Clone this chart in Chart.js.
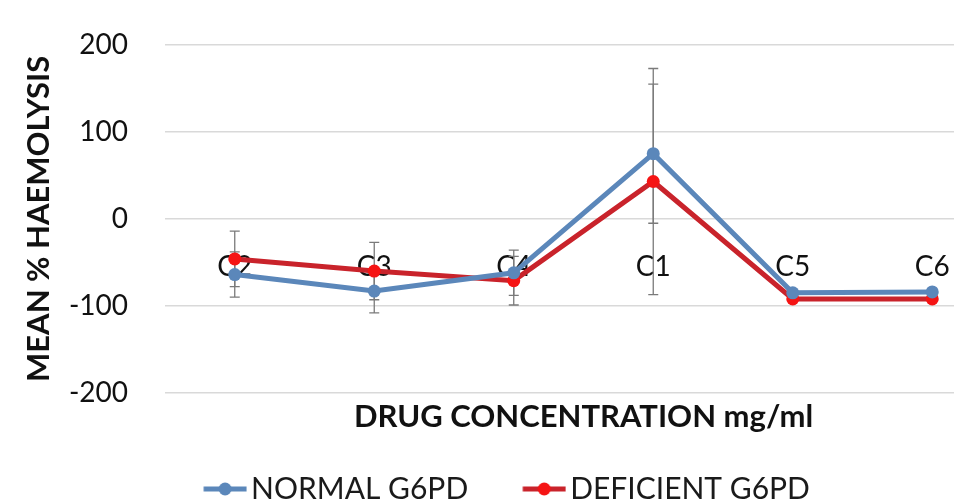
<!DOCTYPE html>
<html>
<head>
<meta charset="utf-8">
<script src="https://cdn.jsdelivr.net/npm/chart.js@4.4.1/dist/chart.umd.min.js"></script>
<style>
  html, body { margin: 0; padding: 0; background: #fff; overflow: hidden; }
  #wrap { width: 1017px; height: 504px; }
</style>
</head>
<body>
<div id="wrap"><canvas id="mainChart"></canvas></div>
<script>
const categories = ['C2', 'C3', 'C4', 'C1', 'C5', 'C6'];
const normalG6pd = [-64, -83, -62, 75, -85, -84];
const deficientG6pd = [-46, -60, -71, 43, -92, -92];
const normalErr = [26, 25, 26, 80, 2, 2];
const deficientErr = [32, 33, 28, 130, 2, 2];
const yTicks = [-200, -100, 0, 100, 200];

const BLUE = '#5b87ba';
const RED_LINE = '#c9232b';
const RED_DOT = '#f51414';
const FONT = 'Lato, "Open Sans", sans-serif';

// legend icon: line with a dot, sitting in the right part of a wide box
function legendIcon(line, dot) {
  const c = document.createElement('canvas');
  c.width = 82; c.height = 16;
  const g = c.getContext('2d');
  g.strokeStyle = line; g.lineWidth = 5;
  g.beginPath(); g.moveTo(38.5, 8); g.lineTo(81.5, 8); g.stroke();
  g.fillStyle = dot;
  g.beginPath(); g.arc(60, 8, 6.5, 0, Math.PI * 2); g.fill();
  return c;
}

const errorBars = {
  id: 'errorBars',
  beforeDatasetsDraw(chart) {
    const ctx = chart.ctx, y = chart.scales.y;
    const errs = [normalErr, deficientErr];
    ctx.save();
    ctx.strokeStyle = '#7a7a7a';
    ctx.lineWidth = 1.3;
    chart.data.datasets.forEach((ds, i) => {
      chart.getDatasetMeta(i).data.forEach((pt, j) => {
        const v = ds.data[j], e = errs[i][j];
        if (!e) return;
        const top = y.getPixelForValue(v + e), bot = y.getPixelForValue(v - e);
        ctx.beginPath();
        ctx.moveTo(pt.x, top); ctx.lineTo(pt.x, bot);
        ctx.moveTo(pt.x - 5, top); ctx.lineTo(pt.x + 5, top);
        ctx.moveTo(pt.x - 5, bot); ctx.lineTo(pt.x + 5, bot);
        ctx.stroke();
      });
    });
    ctx.restore();
  }
};

// legend sits a little left of the plot centre in the original
const legendShift = {
  id: 'legendShift',
  afterLayout(chart) {
    chart.legend.left -= 18;
    chart.legend.right -= 18;
  }
};

new Chart(document.getElementById('mainChart'), {
  type: 'line',
  data: {
    labels: categories,
    datasets: [
      { label: 'NORMAL G6PD', data: normalG6pd, borderColor: BLUE, backgroundColor: BLUE,
        borderWidth: 5, pointRadius: 6.5, pointBorderWidth: 0, tension: 0 },
      { label: 'DEFICIENT G6PD', data: deficientG6pd, borderColor: RED_LINE, backgroundColor: RED_DOT,
        borderWidth: 5, pointRadius: 6.5, pointBorderWidth: 0, tension: 0 }
    ]
  },
  options: {
    responsive: true,
    maintainAspectRatio: false,
    animation: false,
    layout: { padding: { left: 20, right: 15, top: 45, bottom: -10 } },
    plugins: {
      tooltip: { enabled: false },
      legend: {
        position: 'bottom',
        labels: {
          color: '#1a1a1a',
          font: { family: FONT, size: 30 },
          usePointStyle: true,
          pointStyleWidth: 60,
          padding: 27,
          generateLabels: chart => chart.data.datasets.map((ds, i) => ({
            text: ds.label,
            pointStyle: legendIcon(ds.borderColor, ds.backgroundColor),
            fontColor: '#1a1a1a',
            lineWidth: 0,
            datasetIndex: i
          }))
        }
      }
    },
    scales: {
      x: {
        type: 'category',
        position: { y: 0 },
        offset: true,
        z: 1,
        grid: { display: false },
        border: { display: false },
        ticks: { color: '#111', font: { family: FONT, size: 28 }, padding: 23 }
      },
      x2: {
        type: 'category',
        position: 'bottom',
        labels: categories,
        grid: { display: false },
        border: { display: false },
        ticks: { display: false },
        title: {
          display: true,
          text: 'DRUG CONCENTRATION mg/ml',
          color: '#111',
          font: { family: FONT, size: 31, weight: 'bold' },
          padding: { top: -2, bottom: 11 }
        }
      },
      y: {
        min: -200,
        max: 200,
        afterBuildTicks: axis => { axis.ticks = yTicks.map(v => ({ value: v })); },
        afterFit: axis => {
          axis.width = 145;
          axis.paddingTop = 0;
          axis.paddingBottom = 0;
        },
        grid: { color: '#d9d9d9', lineWidth: 1.5, drawTicks: false },
        border: { display: false },
        ticks: { color: '#111', font: { family: FONT, size: 28 }, padding: 37 },
        title: {
          display: true,
          text: 'MEAN % HAEMOLYSIS',
          color: '#111',
          font: { family: FONT, size: 31, weight: 'bold' },
          padding: { top: 0, bottom: 0 }
        }
      }
    }
  },
  plugins: [errorBars, legendShift]
});
</script>
</body>
</html>
